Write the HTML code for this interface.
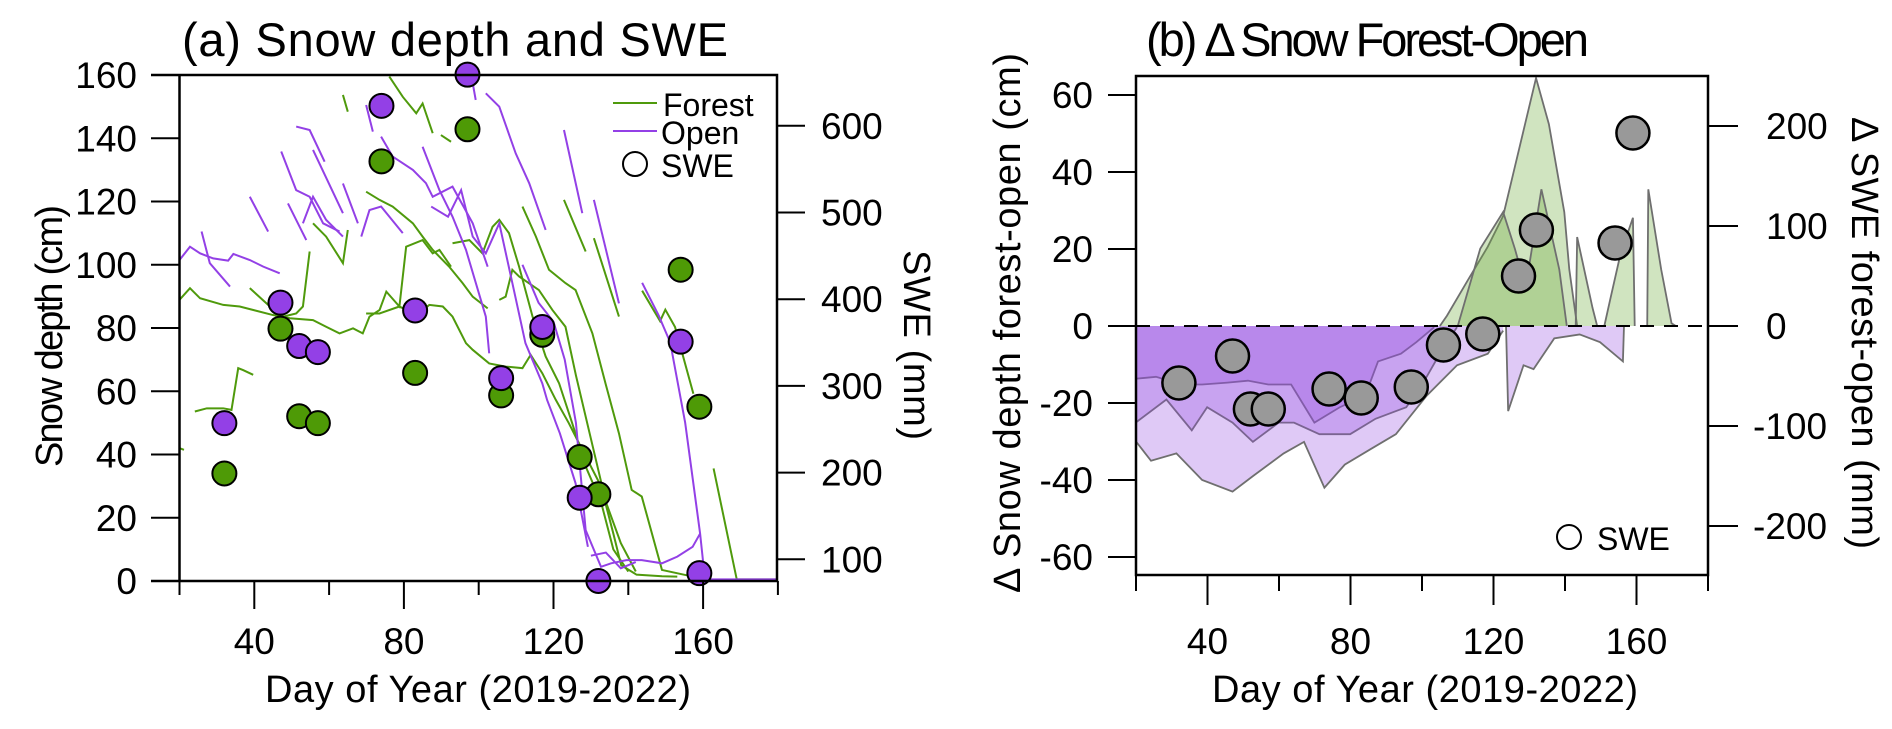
<!DOCTYPE html>
<html><head><meta charset="utf-8"><style>
html,body{margin:0;padding:0;background:#fff;}
svg{display:block;font-family:"Liberation Sans",Arial,sans-serif;}
</style></head><body>
<svg id="chart" width="1892" height="729" viewBox="0 0 1892 729" xmlns="http://www.w3.org/2000/svg">
<g id="panelA"></g>
<g id="panelB"></g>
</svg>
<script>
// ---------- Panel (a) data ----------
const sweDays = [32,47,52,57,74,83,97,106,117,127,132,154,159];
const sweOpen = [257,396,346,339,623,387,659,309,368,171,75,351,84];
const sweForest = [199,366,265,257,559,315,596,289,359,218,175,434,276];
const openLines = [
 [[20,101.5],[22.8,105.7],[25.5,103.6],[29,102],[33,101.3],[34.4,103.4],[38.8,101.5],[42.4,99.4],[46.8,97.3]],
 [[25.9,110.5],[28.1,100.5],[33.5,93.1]],
 [[38.8,121.5],[43.7,110.5]],
 [[47.2,135.8],[51.2,123.6],[54.8,121.5],[58.4,113.1],[62.8,110.5]],
 [[51.2,143.7],[54.8,142.6],[58.8,132.6]],
 [[55.7,136.3],[63.7,116.3]],
 [[49,119.4],[53.9,107.8]],
 [[53,113.1],[55.7,121.5],[59.2,114.2],[63.7,108.9]],
 [[63.7,125.7],[67.7,113.1]],
 [[68.6,108.9],[70.8,117.3],[73.9,118.4],[79.7,110]],
 [[69.9,150.5],[71.7,142.1]],
 [[73.9,140.5],[77,134.2],[82.4,130],[85.9,125.8],[87.7,121.5],[93,124.7],[98.4,113.1],[102.4,99.4]],
 [[85,137.3],[89.5,123.6],[93,115.2],[96.6,104.7],[101.9,83.6],[102.8,72]],
 [[87.3,118.4],[91.8,115.2],[95.3,123.6],[98.4,108.9],[101.9,103.6],[105.5,113.1],[109,94.2],[112.5,75.2],[117,62.5],[118.3,57.2],[121.7,46.7],[125.9,30.9],[129.2,10.8]],
 [[98.4,157.4],[99.2,152.1]],
 [[101.9,154.2],[105.5,150],[109.9,135.2],[113.5,125.8],[117.9,111]],
 [[122.8,142.6],[127.7,116.3]],
 [[130.8,120.5],[137.5,87.8]],
 [[111.7,100],[116,88],[120,82],[123,70],[126,50],[128.6,16.1],[132.7,4.5],[135.4,5.6],[139.5,6.6],[143.6,6.6],[149,5.6],[153.1,7.7],[157.2,10.8],[159.2,15]],
 [[143.7,94.3],[148.1,84],[151.2,75.5],[155.2,50.1],[159.2,15],[160.5,0.5],[180,0.5]],
 [[130,8],[134,9],[138,4],[142,6]]
];
const forestLines = [
 [[24.1,53.6],[27.3,54.6],[31.7,54.6],[33.9,54.1],[35.7,67.3],[37,66.7],[39.7,65.2]],
 [[38.8,92.6],[43.7,87.3],[47.7,83.6],[51.2,84.6],[53,86.8],[54.8,104.2]],
 [[55.7,113.1],[59.2,108.9],[63.7,100.5],[65,111]],
 [[20,88.9],[22.8,92.6],[25.5,89.4],[31.7,87.3],[36.1,86.8],[45,84.1],[49.5,83.1],[55.7,82.5],[59.2,80.4],[62.8,78.3],[66.4,79.9],[69,78.3],[70.8,83.6],[73.5,85.7],[75.3,91.5],[78.8,86.8],[80.6,105.7],[85,107.8],[87.7,103.6],[89.5,104.7],[92.6,99.4]],
 [[69.9,84.6],[73.5,84.6],[78.8,86.8],[83.3,84.1],[86.8,87.3],[90.4,86.8],[93,83.6],[96.6,75.2],[98.4,73.1],[102.8,68.8],[107.2,67.8],[111.7,67.3],[113.9,71.5],[117,65.7],[120.6,57.3],[124.1,49.9],[127.7,41.5],[132.7,30],[136,15],[138.1,5],[142.2,2],[149,1.5],[153.1,1.4]],
 [[69.9,123.1],[73.5,120.5],[77,118.4],[82.4,113.1],[85,108.9],[87.7,104.7],[92.1,99.4],[95.7,94.2],[98.4,89.9],[102.4,86.2]],
 [[93,106.8],[97.5,107.8],[101,103.6],[103.7,112],[105.5,114.2],[108.1,110],[110.8,99.4],[114.4,83.6],[117.9,71],[121.5,62.5],[125,49.9],[128.6,36.2],[132.7,25],[136,10],[140,3]],
 [[105.5,88.9],[107.2,89.9],[109,98.4],[110.8,96.3],[116.1,92],[119.7,85.7],[123.2,80.4],[126,65],[130,45],[134,25],[138,12],[142,3]],
 [[111.7,118.4],[115.3,108.9],[118.8,98.4],[123.2,94.2],[125.9,92],[130.4,78.3],[133.9,62.5],[137.5,46.7],[140.9,28.8],[143.6,26.7],[149,3.5],[157.2,1.4]],
 [[76.1,159.5],[79.7,153.1],[83.3,147.9],[85,151],[87.7,141.6]],
 [[63.7,153.7],[65,148.4]],
 [[89.9,141],[92.6,138.9]],
 [[122.8,120.5],[128.6,104.2]],
 [[130.8,108.4],[137.5,83.6]],
 [[143.7,91.8],[148.5,82.2],[149.9,85.8],[152.5,80.3],[157.4,59.2]],
 [[162.8,35.6],[169,0.5],[180,0.5]],
 [[20,42],[21.2,41.5]]
];
const depthTicksA = [0,20,40,60,80,100,120,140,160];
const sweTicksA = [100,200,300,400,500,600];
const dayTicks = [20,40,60,80,100,120,140,160,180];
const dayLabels = [40,80,120,160];

// ---------- Panel (b) data ----------
const diffSweDays = [32,47,52,57,74,83,97,106,117,127,132,154,159];
const diffSwe = [-57,-30,-83,-83,-63,-72,-61,-19,-8,50,96,83,193];
const diffCurves = [
 [[19.9,-13.7],[25.6,-13.2],[32.8,-15.2],[38.5,-15.2],[45.6,-14.7],[51.3,-14.2],[57,-15.2],[63.4,-15.2],[69.9,-25.1],[77,-21.1],[84.1,-18.1],[87.7,-9.2],[94.1,-7.2],[98.4,-4.2],[103.4,-0.3]],
 [[19.9,-25.1],[28.5,-19.1],[35.6,-27.1],[39.9,-21.1],[47,-25.1],[52.7,-30.1],[59.9,-25.1],[64.2,-25.1],[71.3,-28.1],[79.9,-28.1],[87,-24.1],[95.6,-21.1],[101.3,-13.2],[105.6,-6.2],[109.8,-0.3]],
 [[20,-30],[24.2,-35],[31.3,-33.1],[38.5,-40],[47,-43],[52.7,-39],[61.3,-33.1],[67,-30.1],[72.7,-42],[78.4,-36],[85.6,-32],[92.7,-28.1],[101.3,-18.1],[109.8,-10.2],[118.4,-7.2],[122.7,-1.2]],
 [[123.5,0],[124.1,-22.1],[128.4,-10.2],[131.2,-11.2],[137,-3.2],[144.1,-2.2],[149.8,-4.2],[156.2,-9.2],[156.5,0]],
 [[105,0],[107,2.7],[112.7,11.7],[118.4,20.6],[122.7,28.6],[125.5,39.5],[131.9,64.4],[135.5,52.4],[139.8,29.6],[141.2,14.7],[143.4,0]],
 [[110,0],[116.3,20.1],[122.7,29.6],[126,20],[129,10],[133.4,35.5],[138.4,14.7],[140.5,0]],
 [[143,0],[143.4,23.1],[147.7,4.7],[149,0]],
 [[151,0],[152.6,6.7],[155.5,18.6],[159,28.1],[159.5,0]],
 [[163,0],[163.3,35.5],[166.9,14.7],[169.8,0.7],[171,0]]
];
const depthTicksB = [-60,-40,-20,0,20,40,60];
const sweTicksB = [-200,-100,0,100,200];

// ---------- scales ----------
const xA = d => 179.5 + (d - 20) * 3.74;
const yA = v => 581 - v * 3.1625;
const ySA = v => 646 - v * 0.867;
const xB = d => 1136 + (d - 20) * 3.575;
const yB = v => 326 - v * 3.85;
const ySB = v => 326 - v * 1.0;

const NS = "http://www.w3.org/2000/svg";
function mk(parent, tag, attrs, text) {
  const el = document.createElementNS(NS, tag);
  for (const k in attrs) el.setAttribute(k, attrs[k]);
  if (text !== undefined) el.textContent = text;
  parent.appendChild(el);
  return el;
}
const A = document.getElementById('panelA');
const B = document.getElementById('panelB');

// ===== Panel A =====
forestLines.forEach(l => {
  const p = mk(A, 'polyline', {points: l.map(q => xA(q[0]) + ',' + yA(q[1])).join(' '), fill: 'none', stroke: '#4f9a0c', 'stroke-width': 2});
  
  
});
openLines.forEach(l => {
  const p = mk(A, 'polyline', {points: l.map(q => xA(q[0]) + ',' + yA(q[1])).join(' '), fill: 'none', stroke: '#9340e6', 'stroke-width': 2});
  
  
});
sweDays.forEach((d, i) => {
  const c = mk(A, 'circle', {cx: xA(d), cy: ySA(sweForest[i]), r: 12, fill: '#4e9a06', stroke: '#000', 'stroke-width': 2});
  
  
});
sweDays.forEach((d, i) => {
  const c = mk(A, 'circle', {cx: xA(d), cy: ySA(sweOpen[i]), r: 12, fill: '#9340e6', stroke: '#000', 'stroke-width': 2});
  
  
});
const fa = mk(A, 'path', {d: 'M151,75 H777 V581 M179.5,75 V581 M151,581 H777', fill: 'none', stroke: '#000', 'stroke-width': 2.5});


depthTicksA.forEach(v => {
  const t = mk(A, 'line', {x1: 151, x2: 179.5, y1: yA(v), y2: yA(v), stroke: '#000', 'stroke-width': 2});
  
  
  const tx = mk(A, 'text', {x: 137, y: yA(v) + 13, 'text-anchor': 'end', 'font-size': 37}, String(v));
  
  
});
sweTicksA.forEach(v => {
  const t = mk(A, 'line', {x1: 777, x2: 805, y1: ySA(v), y2: ySA(v), stroke: '#000', 'stroke-width': 2});
  
  
  const tx = mk(A, 'text', {x: 821, y: ySA(v) + 13, 'font-size': 37}, String(v));
  
  
});
dayTicks.forEach(v => {
  const long = dayLabels.includes(v);
  const t = mk(A, 'line', {x1: xA(v), x2: xA(v), y1: 581, y2: long ? 609 : 595, stroke: '#000', 'stroke-width': 2});
  
  
});
dayLabels.forEach(v => {
  const tx = mk(A, 'text', {x: xA(v), y: 654, 'text-anchor': 'middle', 'font-size': 37}, String(v));
  
  
});
const lg = mk(A, 'g', {});


mk(lg, 'line', {x1: 613, x2: 657, y1: 103, y2: 103, stroke: '#4f9a0c', 'stroke-width': 2});
mk(lg, 'text', {x: 663, y: 116, 'font-size': 32}, 'Forest');
mk(lg, 'line', {x1: 613, x2: 657, y1: 131, y2: 131, stroke: '#9340e6', 'stroke-width': 2});
mk(lg, 'text', {x: 661, y: 144, 'font-size': 32}, 'Open');
mk(lg, 'circle', {cx: 635, cy: 164, r: 12, fill: '#fff', stroke: '#000', 'stroke-width': 2});
mk(lg, 'text', {x: 661, y: 177, 'font-size': 32}, 'SWE');
let t;
t = mk(A, 'text', {x: 182, y: 56, 'font-size': 47, textLength: 546}, '(a) Snow depth and SWE');
 
t = mk(A, 'text', {x: 478, y: 702, 'font-size': 38, 'text-anchor': 'middle', textLength: 426}, 'Day of Year (2019-2022)');
 
t = mk(A, 'text', {x: 0, y: 0, 'font-size': 38, 'text-anchor': 'middle', transform: 'translate(62,336) rotate(-90)', textLength: 262}, 'Snow depth (cm)');
 
t = mk(A, 'text', {x: 0, y: 0, 'font-size': 38, 'text-anchor': 'middle', transform: 'translate(904,345) rotate(90)', textLength: 190}, 'SWE (mm)');
 

// ===== Panel B =====
diffCurves.forEach(c => {
  const neg = c.reduce((s, q) => s + q[1], 0) < 0;
  const pts = [[c[0][0], 0]].concat(c).concat([[c[c.length - 1][0], 0]]);
  const poly = mk(B, 'polygon', {points: pts.map(q => xB(q[0]) + ',' + yB(q[1])).join(' '), fill: neg ? 'rgb(150,75,225)' : 'rgb(110,170,60)', 'fill-opacity': neg ? 0.3 : 0.32, stroke: 'none'});
  
  
  const ln = mk(B, 'polyline', {points: c.map(q => xB(q[0]) + ',' + yB(q[1])).join(' '), fill: 'none', stroke: '#6f6f6f', 'stroke-width': 1.8});
  
  
});
const zl = mk(B, 'line', {x1: 1136, x2: 1708, y1: 326, y2: 326, stroke: '#000', 'stroke-width': 2, 'stroke-dasharray': '14,10'});


diffSweDays.forEach((d, i) => {
  const c = mk(B, 'circle', {cx: xB(d), cy: ySB(diffSwe[i]), r: 16.5, fill: '#999', stroke: '#000', 'stroke-width': 2.5});
  
  
});
const fb = mk(B, 'rect', {x: 1136, y: 76, width: 572, height: 499, fill: 'none', stroke: '#000', 'stroke-width': 2.5});


depthTicksB.forEach(v => {
  const tk = mk(B, 'line', {x1: 1108, x2: 1136, y1: yB(v), y2: yB(v), stroke: '#000', 'stroke-width': 2});
  
  
  const tx = mk(B, 'text', {x: 1093, y: yB(v) + 13, 'text-anchor': 'end', 'font-size': 37}, String(v));
  
  
});
sweTicksB.forEach(v => {
  const tk = mk(B, 'line', {x1: 1708, x2: 1738, y1: ySB(v), y2: ySB(v), stroke: '#000', 'stroke-width': 2});
  
  
  const tx = mk(B, 'text', {x: v < 0 ? 1753 : 1766, y: ySB(v) + 13, 'font-size': 37}, String(v));
  
  
});
dayTicks.forEach(v => {
  const long = dayLabels.includes(v);
  const tk = mk(B, 'line', {x1: xB(v), x2: xB(v), y1: 575, y2: long ? 605 : 591, stroke: '#000', 'stroke-width': 2});
  
  
});
dayLabels.forEach(v => {
  const tx = mk(B, 'text', {x: xB(v), y: 654, 'text-anchor': 'middle', 'font-size': 37}, String(v));
  
  
});
const lb = mk(B, 'g', {});


mk(lb, 'circle', {cx: 1569, cy: 537, r: 12, fill: '#fff', stroke: '#000', 'stroke-width': 2});
mk(lb, 'text', {x: 1597, y: 550, 'font-size': 32}, 'SWE');
t = mk(B, 'text', {x: 1146, y: 56, 'font-size': 47, textLength: 443}, '(b) Δ Snow Forest-Open');
 
t = mk(B, 'text', {x: 1425, y: 702, 'font-size': 38, 'text-anchor': 'middle', textLength: 426}, 'Day of Year (2019-2022)');
 
t = mk(B, 'text', {x: 0, y: 0, 'font-size': 38, 'text-anchor': 'middle', transform: 'translate(1020,323) rotate(-90)', textLength: 540}, 'Δ Snow depth forest-open (cm)');
 
t = mk(B, 'text', {x: 0, y: 0, 'font-size': 38, 'text-anchor': 'middle', transform: 'translate(1852,333) rotate(90)', textLength: 432}, 'Δ SWE forest-open (mm)');
 
</script>
</body></html>
